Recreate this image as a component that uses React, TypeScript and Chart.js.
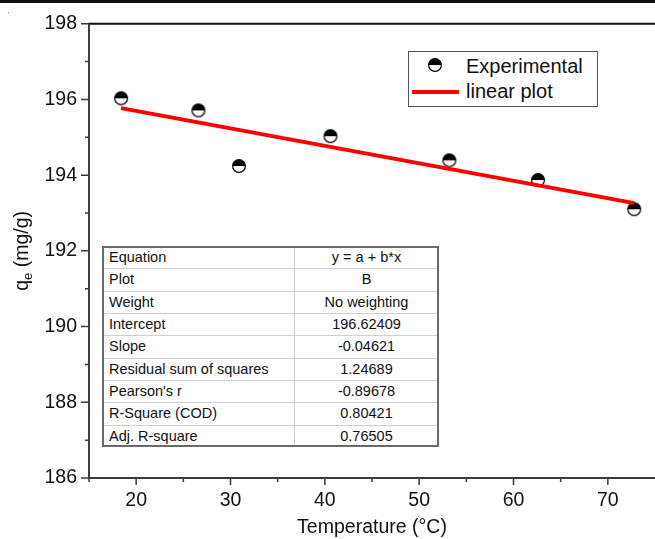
import React, { useEffect, useRef } from 'react';
import { Chart, registerables } from 'chart.js';

Chart.register(...registerables);

// ---- data ----
const temperature = [18.4, 26.6, 30.9, 40.6, 53.2, 62.6, 72.8];
const qe = [196.03, 195.71, 194.24, 195.03, 194.39, 193.87, 193.1];
const fitX = [18.4, 72.8];
const fitY = [195.77, 193.26];
const xTickLabels = ['20', '30', '40', '50', '60', '70'];
const yTickLabels = ['186', '188', '190', '192', '194', '196', '198'];
const tableLabels = [
  'Equation',
  'Plot',
  'Weight',
  'Intercept',
  'Slope',
  'Residual sum of squares',
  "Pearson's r",
  'R-Square (COD)',
  'Adj. R-square',
];
const tableValues = [
  'y = a + b*x',
  'B',
  'No weighting',
  '196.62409',
  '-0.04621',
  '1.24689',
  '-0.89678',
  '0.80421',
  '0.76505',
];
const legendLabels = ['Experimental', 'linear plot'];

const FONT = '"Liberation Sans", Arial, Helvetica, sans-serif';

function makeMarker(r: number): HTMLCanvasElement {
  const c = document.createElement('canvas');
  const s = 2 * r + 2;
  c.width = s;
  c.height = s;
  const g = c.getContext('2d')!;
  const cx = s / 2;
  g.beginPath();
  g.arc(cx, cx, r - 0.6, 0, Math.PI * 2);
  g.fillStyle = '#fff';
  g.fill();
  g.beginPath();
  g.arc(cx, cx, r - 0.6, Math.PI, Math.PI * 2);
  g.closePath();
  g.fillStyle = '#000';
  g.fill();
  g.beginPath();
  g.arc(cx, cx, r - 0.6, 0, Math.PI * 2);
  g.lineWidth = 1.2;
  g.strokeStyle = '#000';
  g.stroke();
  return c;
}

const framePlugin = {
  id: 'frame',
  beforeDatasetsDraw(chart: any) {
    const { ctx, chartArea } = chart;
    const { left, right, top, bottom } = chartArea;
    const x = chart.scales.x;
    const y = chart.scales.y;
    ctx.save();
    ctx.fillStyle = '#111';
    ctx.fillRect(0, 0, chart.width, 3);
    ctx.fillStyle = '#888';
    ctx.fillRect(8, 12, 1, 1);
    ctx.lineCap = 'butt';
    // top line
    ctx.strokeStyle = '#111';
    ctx.lineWidth = 2;
    ctx.beginPath();
    ctx.moveTo(left - 1, top);
    ctx.lineTo(right, top);
    ctx.stroke();
    // left + bottom axes
    ctx.strokeStyle = '#3c3c3c';
    ctx.beginPath();
    ctx.moveTo(left, top);
    ctx.lineTo(left, bottom);
    ctx.moveTo(left - 1, bottom);
    ctx.lineTo(right, bottom);
    ctx.stroke();
    ctx.lineWidth = 1.5;
    ctx.beginPath();
    x.ticks.forEach((t: any) => {
      const px = x.getPixelForValue(t.value);
      if (px > right - 2) return;
      const len = t.value % 10 === 0 ? 7 : 4;
      ctx.moveTo(px, bottom);
      ctx.lineTo(px, bottom + len);
    });
    y.ticks.forEach((t: any) => {
      const py = y.getPixelForValue(t.value);
      const len = t.value % 2 === 0 ? 8 : 4;
      ctx.moveTo(left, py);
      ctx.lineTo(left - len, py);
    });
    ctx.stroke();
    ctx.restore();
  },
  afterDraw(chart: any) {
    const { ctx, chartArea } = chart;
    const cy = (chartArea.top + chartArea.bottom) / 2;
    const big = 19.5;
    const small = 13;
    ctx.save();
    ctx.fillStyle = '#111';
    ctx.textBaseline = 'alphabetic';
    ctx.font = `${big}px ${FONT}`;
    const wq = ctx.measureText('q').width;
    const wRest = ctx.measureText(' (mg/g)').width;
    ctx.font = `${small}px ${FONT}`;
    const we = ctx.measureText('e').width;
    const total = wq + we + wRest;
    ctx.translate(28, cy);
    ctx.rotate(-Math.PI / 2);
    let pos = -total / 2;
    ctx.font = `${big}px ${FONT}`;
    ctx.fillText('q', pos, 0);
    pos += wq;
    ctx.font = `${small}px ${FONT}`;
    ctx.fillText('e', pos, 4);
    pos += we;
    ctx.font = `${big}px ${FONT}`;
    ctx.fillText(' (mg/g)', pos, 0);
    ctx.restore();
  },
};

function LegendMarker({ cx, cy }: { cx: number; cy: number }) {
  const r = 7;
  return (
    <svg
      width={2 * r + 2}
      height={2 * r + 2}
      style={{ position: 'absolute', left: cx - r - 1, top: cy - r - 1 }}
    >
      <circle cx={r + 1} cy={r + 1} r={r - 0.6} fill="#fff" />
      <path d={`M ${1.6} ${r + 1} A ${r - 0.6} ${r - 0.6} 0 0 1 ${2 * r + 0.4} ${r + 1} Z`} fill="#000" />
      <circle cx={r + 1} cy={r + 1} r={r - 0.6} fill="none" stroke="#000" strokeWidth={1.2} />
    </svg>
  );
}

export default function App() {
  const ref = useRef<HTMLCanvasElement | null>(null);

  useEffect(() => {
    if (!ref.current) return;
    const marker = makeMarker(7);
    const chart = new Chart(ref.current, {
      type: 'scatter',
      data: {
        datasets: [
          {
            type: 'line',
            label: legendLabels[1],
            data: fitX.map((x, i) => ({ x, y: fitY[i] })),
            borderColor: '#ff0000',
            borderWidth: 4,
            pointRadius: 0,
            showLine: true,
            fill: false,
            order: 0,
          } as any,
          {
            type: 'scatter',
            label: legendLabels[0],
            data: temperature.map((x, i) => ({ x, y: qe[i] })),
            pointStyle: marker,
            pointRadius: 7,
            order: 1,
          } as any,
        ],
      },
      options: {
        responsive: false,
        animation: false,
        devicePixelRatio: 1,
        layout: { autoPadding: false, padding: { top: 22, left: 0, right: 0, bottom: 0 } },
        plugins: { legend: { display: false }, tooltip: { enabled: false } },
        scales: {
          x: {
            type: 'linear',
            min: 15,
            max: 75,
            grid: { display: false, drawTicks: false },
            border: { display: false },
            ticks: {
              stepSize: 5,
              autoSkip: false,
              maxRotation: 0,
              padding: 11,
              color: '#111',
              font: { size: 19.5, family: FONT },
              callback: (v: any) => (xTickLabels.includes(String(v)) ? String(v) : ''),
            },
            title: {
              display: true,
              text: 'Temperature (°C)',
              color: '#111',
              font: { size: 19.5, family: FONT },
              padding: { top: 0, bottom: 0 },
            },
            afterFit: (s: any) => {
              s.height = 61;
              s.paddingRight = 0;
              s.paddingLeft = 0;
            },
          },
          y: {
            type: 'linear',
            min: 186,
            max: 198,
            grid: { display: false, drawTicks: false },
            border: { display: false },
            ticks: {
              stepSize: 1,
              autoSkip: false,
              padding: 12,
              color: '#111',
              font: { size: 19.5, family: FONT },
              callback: (v: any) => (yTickLabels.includes(String(v)) ? String(v) : ''),
            },
            afterFit: (s: any) => {
              s.width = 89;
            },
          },
        },
      },
      plugins: [framePlugin],
    });
    return () => chart.destroy();
  }, []);

  const tLeft = 102;
  const tTop = 246;
  const tWidth = 337;
  const tHeight = 201;
  const rowH = tHeight / tableLabels.length;
  const colX = 294;

  return (
    <div
      style={{
        position: 'fixed',
        left: 0,
        top: 0,
        width: 655,
        height: 539,
        background: '#fff',
        overflow: 'hidden',
        fontFamily: FONT,
        color: '#111',
      }}
    >
      <canvas ref={ref} width={655} height={539} style={{ display: 'block', width: 655, height: 539 }} />

      {/* legend */}
      <div
        style={{
          position: 'absolute',
          left: 408,
          top: 51,
          width: 190,
          height: 56,
          border: '1.5px solid #555',
          boxSizing: 'border-box',
          background: '#fff',
        }}
      />
      <LegendMarker cx={435} cy={65} />
      <div style={{ position: 'absolute', left: 466, top: 55.5, fontSize: 20, lineHeight: '20px', whiteSpace: 'nowrap' }}>
        {legendLabels[0]}
      </div>
      <div style={{ position: 'absolute', left: 412, top: 90, width: 47, height: 4, background: '#ff0000' }} />
      <div style={{ position: 'absolute', left: 466, top: 81, fontSize: 20, lineHeight: '20px', whiteSpace: 'nowrap' }}>
        {legendLabels[1]}
      </div>

      {/* table */}
      <div
        style={{
          position: 'absolute',
          left: tLeft,
          top: tTop,
          width: tWidth,
          height: tHeight,
          border: '2px solid #6a6a6a',
          boxSizing: 'border-box',
          background: '#fff',
        }}
      />
      {tableLabels.map((_, i) =>
        i === 0 ? null : (
          <div
            key={'h' + i}
            style={{
              position: 'absolute',
              left: tLeft + 2,
              top: tTop + Math.round(i * rowH),
              width: tWidth - 4,
              height: 1,
              background: '#cfcfcf',
            }}
          />
        )
      )}
      <div style={{ position: 'absolute', left: colX, top: tTop + 2, width: 1, height: tHeight - 4, background: '#cfcfcf' }} />
      {tableLabels.map((label, i) => (
        <div
          key={'l' + i}
          style={{
            position: 'absolute',
            left: 109,
            top: tTop + i * rowH + rowH / 2 - 7.25,
            fontSize: 14.5,
            lineHeight: '14.5px',
            whiteSpace: 'nowrap',
          }}
        >
          {label}
        </div>
      ))}
      {tableValues.map((val, i) => (
        <div
          key={'v' + i}
          style={{
            position: 'absolute',
            left: colX,
            width: tLeft + tWidth - colX,
            textAlign: 'center',
            top: tTop + i * rowH + rowH / 2 - 7.25,
            fontSize: 14.5,
            lineHeight: '14.5px',
            whiteSpace: 'nowrap',
          }}
        >
          {val}
        </div>
      ))}
    </div>
  );
}
